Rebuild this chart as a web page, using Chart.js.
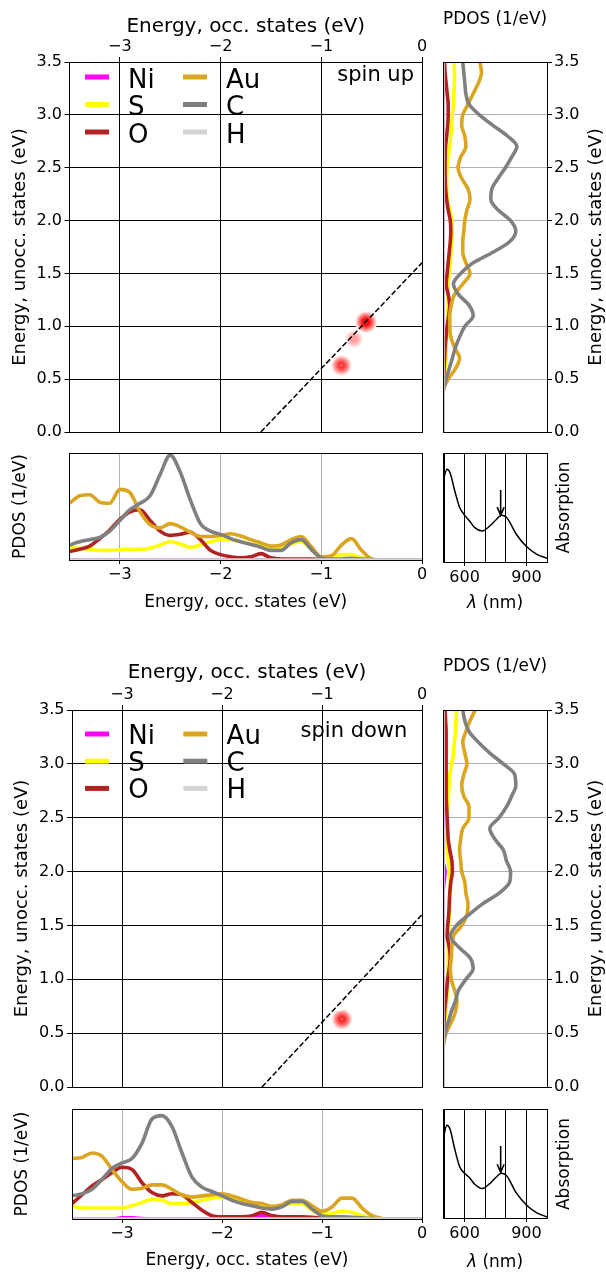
<!DOCTYPE html>
<html>
<head>
<meta charset="utf-8">
<title>PDOS and transitions</title>
<script src="https://cdn.jsdelivr.net/npm/chart.js@4.4.0/dist/chart.umd.min.js"></script>
<style>
  html, body { margin: 0; padding: 0; background: #fff; overflow: hidden; }
  #page { position: relative; width: 606px; height: 1272px; overflow: hidden; }
  #page canvas { position: absolute; }
</style>
</head>
<body>
<div id="page">
  <canvas id="upMain" width="440" height="445" style="left:0px;top:0px"></canvas>
  <canvas id="upRight" width="176" height="445" style="left:430px;top:0px"></canvas>
  <canvas id="upBottom" width="440" height="180" style="left:0px;top:440px"></canvas>
  <canvas id="upAbs" width="176" height="180" style="left:430px;top:440px"></canvas>
  <canvas id="downMain" width="440" height="450" style="left:0px;top:650px"></canvas>
  <canvas id="downRight" width="176" height="450" style="left:430px;top:650px"></canvas>
  <canvas id="downBottom" width="440" height="186" style="left:0px;top:1096px"></canvas>
  <canvas id="downAbs" width="176" height="186" style="left:430px;top:1096px"></canvas>
</div>
<script>
// ---- data ----
const elements = ['Ni', 'S', 'O', 'Au', 'C', 'H'];
const elementColors = ['#ff00ff', '#ffff00', '#b22222', '#daa520', '#808080', '#d3d3d3'];

const occTicks = [-3, -2, -1, 0];
const unoccTicks = [0, 0.5, 1.0, 1.5, 2.0, 2.5, 3.0, 3.5];
const lambdaTicks = [500, 600, 700, 800, 900, 1000];
const lambdaLabels = [600, 900];

// energy grids of the PDOS panels (eV)
const occEnergy = [-3.5, -3.4, -3.3, -3.2, -3.1, -3.0, -2.9, -2.8, -2.7, -2.6, -2.5, -2.4,
  -2.3, -2.2, -2.1, -2.0, -1.9, -1.8, -1.7, -1.6, -1.5, -1.4, -1.3, -1.2, -1.1, -1.0,
  -0.9, -0.8, -0.7, -0.6, -0.5, -0.4, -0.3, -0.2, -0.1, 0.0];
const unoccEnergy = [0.0, 0.1, 0.2, 0.3, 0.4, 0.5, 0.6, 0.7, 0.8, 0.9, 1.0, 1.1, 1.2, 1.3,
  1.4, 1.5, 1.6, 1.7, 1.8, 1.9, 2.0, 2.1, 2.2, 2.3, 2.4, 2.5, 2.6, 2.7, 2.8, 2.9, 3.0,
  3.1, 3.2, 3.3, 3.4, 3.5];

// spin up, occupied states
const upOccNi = [0, 0, 0, 0, 0, 0, 0, 0, 0, 0, 0, 0, 0, 0, 0, 0, 0, 0, 0, 0, 0, 0, 0, 0, 0, 0, 0, 0, 0, 0, 0, 0, 0, 0, 0, 0];
const upOccS = [0.12, 0.11, 0.10, 0.09, 0.09, 0.095, 0.10, 0.10, 0.11, 0.14, 0.17, 0.15, 0.12, 0.14, 0.17, 0.19, 0.19, 0.17, 0.15, 0.13, 0.12, 0.12, 0.15, 0.17, 0.10, 0.02, 0.035, 0.05, 0.05, 0.02, 0.005, 0, 0, 0, 0, 0];
const upOccO = [0.08, 0.10, 0.13, 0.20, 0.28, 0.38, 0.45, 0.47, 0.37, 0.27, 0.23, 0.24, 0.26, 0.19, 0.09, 0.05, 0.03, 0.02, 0.03, 0.06, 0.02, 0.01, 0.01, 0.01, 0.01, 0.005, 0, 0, 0, 0, 0, 0, 0, 0, 0, 0];
const upOccAu = [0.53, 0.60, 0.61, 0.54, 0.53, 0.66, 0.63, 0.45, 0.33, 0.30, 0.34, 0.31, 0.26, 0.22, 0.22, 0.23, 0.245, 0.225, 0.19, 0.16, 0.13, 0.14, 0.19, 0.22, 0.125, 0.03, 0.04, 0.14, 0.20, 0.09, 0.01, 0, 0, 0, 0, 0];
const upOccC = [0.14, 0.17, 0.19, 0.21, 0.27, 0.37, 0.47, 0.53, 0.60, 0.80, 0.98, 0.82, 0.56, 0.34, 0.27, 0.24, 0.20, 0.17, 0.145, 0.12, 0.09, 0.09, 0.16, 0.19, 0.10, 0.02, 0.01, 0.01, 0.015, 0.01, 0.005, 0, 0, 0, 0, 0];
const upOccH = [0, 0, 0, 0, 0, 0, 0, 0, 0, 0, 0, 0, 0, 0, 0, 0, 0, 0, 0, 0, 0, 0, 0, 0, 0, 0, 0, 0, 0, 0, 0, 0, 0, 0, 0, 0];

// spin up, unoccupied states
const upUnoccNi = [0, 0, 0, 0, 0, 0, 0, 0, 0, 0, 0, 0, 0, 0, 0, 0, 0, 0, 0, 0, 0, 0, 0, 0, 0, 0, 0, 0, 0, 0, 0, 0, 0, 0, 0, 0];
const upUnoccS = [0, 0, 0, 0, 0, 0.01, 0.02, 0.03, 0.03, 0.035, 0.04, 0.045, 0.05, 0.05, 0.05, 0.06, 0.07, 0.075, 0.085, 0.09, 0.085, 0.065, 0.04, 0.035, 0.035, 0.04, 0.05, 0.065, 0.075, 0.085, 0.09, 0.10, 0.105, 0.11, 0.11, 0.105];
const upUnoccO = [0, 0, 0, 0, 0, 0.005, 0.01, 0.015, 0.02, 0.03, 0.04, 0.055, 0.065, 0.05, 0.03, 0.04, 0.05, 0.06, 0.07, 0.075, 0.07, 0.05, 0.035, 0.025, 0.02, 0.02, 0.02, 0.025, 0.035, 0.045, 0.05, 0.05, 0.04, 0.03, 0.02, 0.015];
const upUnoccAu = [0, 0, 0, 0, 0.005, 0.05, 0.12, 0.16, 0.11, 0.075, 0.065, 0.065, 0.08, 0.11, 0.19, 0.26, 0.22, 0.19, 0.19, 0.20, 0.21, 0.23, 0.26, 0.24, 0.18, 0.145, 0.17, 0.22, 0.21, 0.18, 0.19, 0.24, 0.29, 0.34, 0.37, 0.355];
const upUnoccC = [0, 0, 0, 0, 0.005, 0.03, 0.06, 0.09, 0.12, 0.16, 0.21, 0.29, 0.25, 0.15, 0.10, 0.17, 0.29, 0.48, 0.64, 0.70, 0.65, 0.53, 0.46, 0.47, 0.53, 0.60, 0.66, 0.71, 0.62, 0.48, 0.35, 0.25, 0.22, 0.21, 0.20, 0.19];
const upUnoccH = [0, 0, 0, 0, 0, 0, 0, 0, 0, 0, 0, 0, 0, 0, 0, 0, 0, 0, 0, 0, 0, 0, 0, 0, 0, 0, 0, 0, 0, 0, 0, 0, 0, 0, 0, 0];

// spin down, occupied states
const downOccNi = [0, 0, 0, 0, 0, 0.01, 0.01, 0.005, 0, 0, 0, 0, 0, 0, 0, 0, 0, 0, 0.01, 0.03, 0.03, 0.01, 0, 0, 0, 0, 0, 0, 0, 0, 0, 0, 0, 0, 0, 0];
const downOccS = [0.115, 0.10, 0.10, 0.10, 0.10, 0.10, 0.12, 0.15, 0.18, 0.17, 0.14, 0.14, 0.15, 0.17, 0.19, 0.20, 0.18, 0.16, 0.14, 0.12, 0.11, 0.12, 0.14, 0.14, 0.08, 0.04, 0.05, 0.07, 0.06, 0.03, 0.005, 0, 0, 0, 0, 0];
const downOccO = [0.14, 0.22, 0.30, 0.36, 0.42, 0.47, 0.45, 0.33, 0.24, 0.21, 0.23, 0.22, 0.15, 0.08, 0.03, 0.02, 0.02, 0.02, 0.03, 0.06, 0.03, 0.02, 0.02, 0.02, 0.015, 0.005, 0, 0, 0, 0, 0, 0, 0, 0, 0, 0];
const downOccAu = [0.55, 0.56, 0.60, 0.57, 0.45, 0.34, 0.27, 0.28, 0.31, 0.31, 0.27, 0.22, 0.20, 0.21, 0.22, 0.23, 0.21, 0.18, 0.15, 0.14, 0.115, 0.13, 0.17, 0.17, 0.12, 0.07, 0.11, 0.19, 0.19, 0.10, 0.03, 0.005, 0, 0, 0, 0];
const downOccC = [0.21, 0.23, 0.27, 0.36, 0.46, 0.51, 0.55, 0.69, 0.91, 0.94, 0.84, 0.60, 0.38, 0.29, 0.25, 0.21, 0.17, 0.14, 0.12, 0.10, 0.09, 0.11, 0.16, 0.16, 0.09, 0.03, 0.02, 0.02, 0.015, 0.01, 0.005, 0, 0, 0, 0, 0];
const downOccH = [0, 0, 0, 0, 0, 0, 0, 0, 0, 0, 0, 0, 0, 0, 0, 0, 0, 0, 0, 0, 0, 0, 0, 0, 0, 0, 0, 0, 0, 0, 0, 0, 0, 0, 0, 0];

// spin down, unoccupied states
const downUnoccNi = [0, 0, 0, 0, 0, 0, 0, 0, 0, 0, 0, 0, 0, 0, 0, 0, 0, 0, 0, 0.01, 0.02, 0, 0, 0, 0, 0, 0, 0, 0, 0, 0, 0, 0, 0, 0, 0];
const downUnoccS = [0, 0, 0, 0, 0, 0.005, 0.015, 0.025, 0.035, 0.04, 0.045, 0.05, 0.05, 0.05, 0.05, 0.055, 0.06, 0.065, 0.07, 0.07, 0.06, 0.05, 0.04, 0.035, 0.035, 0.035, 0.045, 0.05, 0.06, 0.065, 0.085, 0.10, 0.11, 0.12, 0.125, 0.13];
const downUnoccO = [0, 0, 0, 0, 0, 0.005, 0.01, 0.015, 0.025, 0.035, 0.045, 0.06, 0.07, 0.06, 0.04, 0.045, 0.055, 0.06, 0.065, 0.075, 0.09, 0.085, 0.065, 0.05, 0.045, 0.04, 0.035, 0.03, 0.03, 0.03, 0.03, 0.03, 0.03, 0.03, 0.025, 0.02];
const downUnoccAu = [0, 0, 0, 0, 0.005, 0.03, 0.08, 0.12, 0.135, 0.11, 0.08, 0.07, 0.08, 0.085, 0.10, 0.18, 0.23, 0.24, 0.22, 0.21, 0.18, 0.17, 0.16, 0.17, 0.19, 0.25, 0.25, 0.20, 0.18, 0.20, 0.23, 0.21, 0.19, 0.22, 0.26, 0.31];
const downUnoccC = [0, 0, 0, 0, 0.003, 0.02, 0.05, 0.08, 0.12, 0.15, 0.22, 0.29, 0.26, 0.15, 0.07, 0.13, 0.25, 0.38, 0.54, 0.64, 0.65, 0.61, 0.58, 0.50, 0.45, 0.54, 0.61, 0.66, 0.70, 0.69, 0.58, 0.45, 0.34, 0.25, 0.21, 0.19];
const downUnoccH = [0, 0, 0, 0, 0, 0, 0, 0, 0, 0, 0, 0, 0, 0, 0, 0, 0, 0, 0, 0, 0, 0, 0, 0, 0, 0, 0, 0, 0, 0, 0, 0, 0, 0, 0, 0];

// transitions (occ. energy, unocc. energy, relative weight)
const photonEnergy = 1.6;
const upTransOcc = [-0.80, -0.675, -0.556];
const upTransUnocc = [0.63, 0.88, 1.04];
const upTransWeight = [0.8, 0.4, 1.0];
const downTransOcc = [-0.80, -0.84, -0.67];
const downTransUnocc = [0.63, 0.78, 0.91];
const downTransWeight = [0.85, 0.03, 0.03];

// absorption spectra
const absWavelength = [495, 514, 530, 551, 576, 600, 624, 649, 686, 722, 754, 778, 803, 851, 900, 949, 1000];
const upAbsorption = [0.74, 0.85, 0.815, 0.66, 0.50, 0.43, 0.376, 0.315, 0.285, 0.33, 0.39, 0.43, 0.41, 0.255, 0.142, 0.073, 0.033];
const downAbsorption = [0.72, 0.85, 0.81, 0.64, 0.47, 0.41, 0.37, 0.31, 0.27, 0.315, 0.376, 0.41, 0.39, 0.23, 0.12, 0.05, 0.01];
const arrowWavelength = 775;
const upArrow = [0.66, 0.43];
const downArrow = [0.66, 0.42];

// ---- helpers ----
Chart.defaults.font.family = "'DejaVu Sans', sans-serif";
Chart.defaults.color = '#000';
Chart.defaults.animation = false;

const TICK_FONT = { size: 16 };
const PDOS_WIDTH = 3.6;

function fixSize(size) {
  return function (scale) {
    if (scale.isHorizontal()) scale.height = size;
    else scale.width = size;
  };
}

function setTicks(values) {
  return function (scale) {
    scale.ticks = values.map(v => ({ value: v }));
  };
}

function occLabel(v) {
  return v < 0 ? '\u2212' + Math.abs(v) : String(v);
}

function unoccLabel(v) {
  return v.toFixed(1);
}

// soft red blob used as point style for the transitions
function makeGlow(weight) {
  const radius = 8.5 + 3 * weight;
  const size = Math.ceil(radius * 2) + 2;
  const c = document.createElement('canvas');
  c.width = size;
  c.height = size;
  const g = c.getContext('2d');
  const m = size / 2;
  const tint = k => {
    const v = Math.round(255 * (1 - weight * (1 - k)));
    return `rgb(255,${v},${v})`;
  };
  const grad = g.createRadialGradient(m, m, 0, m, m, radius);
  grad.addColorStop(0, '#ffffff');
  grad.addColorStop(0.1, tint(0));
  grad.addColorStop(0.3, tint(0.05));
  grad.addColorStop(0.6, tint(0.45));
  grad.addColorStop(0.85, tint(0.85));
  grad.addColorStop(0.94, 'rgba(255,252,252,1)');
  grad.addColorStop(1, 'rgba(255,255,255,0)');
  g.fillStyle = grad;
  g.beginPath();
  g.arc(m, m, radius, 0, Math.PI * 2);
  g.fill();
  return c;
}

const framePlugin = {
  id: 'frame',
  afterDraw(chart) {
    const { ctx, chartArea: a } = chart;
    const al = v => Math.round(v + 0.5) - 0.5;
    ctx.save();
    ctx.strokeStyle = '#000';
    ctx.lineWidth = 1;
    ctx.strokeRect(al(a.left), al(a.top), al(a.right) - al(a.left), al(a.bottom) - al(a.top));
    ctx.restore();
  }
};

// rotated labels that read bottom to top (right hand side titles)
const sideTextPlugin = {
  id: 'sideText',
  afterDraw(chart, args, opts) {
    const ctx = chart.ctx;
    (opts.items || []).forEach(it => {
      ctx.save();
      ctx.translate(it.x, it.y);
      ctx.rotate(-Math.PI / 2);
      ctx.font = it.size + "px 'DejaVu Sans', sans-serif";
      ctx.fillStyle = '#000';
      ctx.textAlign = 'center';
      ctx.textBaseline = 'middle';
      ctx.fillText(it.text, 0, 0);
      ctx.restore();
    });
  }
};

// "λ (nm)" with an italic lambda, centred under the plot area
const lambdaTitlePlugin = {
  id: 'lambdaTitle',
  afterDraw(chart, args, opts) {
    const { ctx, chartArea } = chart;
    const italic = "italic 17px 'DejaVu Sans', sans-serif";
    const upright = "17px 'DejaVu Sans', sans-serif";
    ctx.save();
    ctx.fillStyle = '#000';
    ctx.textBaseline = 'middle';
    ctx.textAlign = 'left';
    ctx.font = italic;
    const w1 = ctx.measureText('\u03bb').width;
    ctx.font = upright;
    const w2 = ctx.measureText(' (nm)').width;
    const x0 = (chartArea.left + chartArea.right) / 2 - (w1 + w2) / 2;
    const y = chart.height - opts.bottom;
    ctx.font = italic;
    ctx.fillText('\u03bb', x0, y);
    ctx.font = upright;
    ctx.fillText(' (nm)', x0 + w1, y);
    ctx.restore();
  }
};

// element legend in two columns + spin label
const pdosLegendPlugin = {
  id: 'pdosLegend',
  afterDatasetsDraw(chart, args, opts) {
    const { ctx, chartArea } = chart;
    ctx.save();
    elements.forEach((name, i) => {
      const col = Math.floor(i / 3);
      const row = i % 3;
      const x = chartArea.left + opts.left + col * opts.colStep;
      const y = chartArea.top + opts.top + row * opts.rowStep;
      ctx.strokeStyle = elementColors[i];
      ctx.lineWidth = 5;
      ctx.beginPath();
      ctx.moveTo(x, y);
      ctx.lineTo(x + 24, y);
      ctx.stroke();
      ctx.fillStyle = '#000';
      ctx.font = "26px 'DejaVu Sans', sans-serif";
      ctx.textAlign = 'left';
      ctx.textBaseline = 'alphabetic';
      ctx.fillText(name, x + opts.textGap, y + opts.baseline);
    });
    ctx.font = "21px 'DejaVu Sans', sans-serif";
    ctx.textAlign = 'right';
    ctx.fillText(opts.spin, chartArea.right - opts.spinRight, chartArea.top + opts.spinBaseline);
    ctx.restore();
  }
};

const arrowPlugin = {
  id: 'absArrow',
  afterDatasetsDraw(chart, args, opts) {
    const { ctx } = chart;
    const x = chart.scales.x.getPixelForValue(opts.lambda);
    const y0 = chart.scales.y.getPixelForValue(opts.from);
    const y1 = chart.scales.y.getPixelForValue(opts.to);
    ctx.save();
    ctx.strokeStyle = '#000';
    ctx.lineWidth = 1.6;
    ctx.beginPath();
    ctx.moveTo(x, y0);
    ctx.lineTo(x, y1);
    ctx.moveTo(x - 3.5, y1 - 8);
    ctx.lineTo(x, y1);
    ctx.lineTo(x + 3.5, y1 - 8);
    ctx.stroke();
    ctx.restore();
  }
};

const baseOptions = {
  responsive: false,
  devicePixelRatio: 1,
  events: []
};

function buildMain(id, occ, unocc, weight, lay) {
  return new Chart(document.getElementById(id), {
    type: 'scatter',
    data: {
      datasets: [
        {
          data: [{ x: -photonEnergy, y: 0 }, { x: 0, y: photonEnergy }],
          showLine: true,
          borderColor: '#000',
          borderWidth: 1.5,
          borderDash: [5.5, 2.4],
          pointRadius: 0,
          order: 0
        },
        {
          data: occ.map((e, i) => ({ x: e, y: unocc[i] })),
          pointStyle: weight.map(w => makeGlow(w)),
          pointRadius: 5,
          order: 1
        }
      ]
    },
    options: {
      ...baseOptions,
      layout: { padding: lay.padding },
      plugins: {
        legend: { display: false },
        tooltip: { enabled: false },
        pdosLegend: lay.legend
      },
      scales: {
        x: {
          type: 'linear', position: 'top', min: -3.5, max: 0,
          afterBuildTicks: setTicks(occTicks),
          afterFit: fixSize(lay.topH),
          ticks: { font: TICK_FONT, padding: 0.5, maxRotation: 0, autoSkip: false, callback: occLabel },
          grid: { color: '#000', tickLength: 5 },
          border: { display: false },
          title: { display: true, text: 'Energy, occ. states (eV)', font: { size: 20 }, padding: { top: lay.xTitle, bottom: 0 } }
        },
        y: {
          type: 'linear', position: 'left', min: 0, max: 3.5,
          afterBuildTicks: setTicks(unoccTicks),
          afterFit: fixSize(lay.leftW),
          ticks: { font: TICK_FONT, padding: 2.5, autoSkip: false, callback: unoccLabel },
          grid: { color: '#000', tickLength: 5 },
          border: { display: false },
          title: { display: true, text: 'Energy, unocc. states (eV)', font: { size: 18 }, padding: { top: lay.yTitle, bottom: 0 } }
        }
      }
    },
    plugins: [framePlugin, pdosLegendPlugin]
  });
}

function buildUnoccPdos(id, series, lay) {
  return new Chart(document.getElementById(id), {
    type: 'line',
    data: {
      datasets: elements.map((name, i) => ({
        label: name,
        data: unoccEnergy.map((e, k) => ({ x: series[i][k], y: e })),
        borderColor: elementColors[i],
        borderWidth: PDOS_WIDTH,
        pointRadius: 0,
        cubicInterpolationMode: 'monotone',
        order: elements.length - i,
        clip: 0
      }))
    },
    options: {
      ...baseOptions,
      indexAxis: 'y',
      layout: { padding: lay.padding },
      plugins: {
        legend: { display: false },
        tooltip: { enabled: false },
        sideText: { items: [{ text: 'Energy, unocc. states (eV)', x: lay.labelX, y: lay.labelY, size: 18 }] }
      },
      scales: {
        x: {
          type: 'linear', position: 'top', min: 0, max: 1,
          afterFit: fixSize(lay.topH),
          ticks: { display: false },
          grid: { display: false },
          border: { display: false },
          title: { display: true, text: 'PDOS (1/eV)', font: { size: 17 }, padding: { top: lay.xTitle, bottom: 0 } }
        },
        y: {
          type: 'linear', position: 'right', min: 0, max: 3.5,
          afterBuildTicks: setTicks(unoccTicks),
          afterFit: fixSize(59),
          ticks: { font: TICK_FONT, padding: 2, autoSkip: false, callback: unoccLabel },
          grid: { color: '#b0b0b0', tickColor: '#000', tickLength: 5 },
          border: { display: false }
        }
      }
    },
    plugins: [framePlugin, sideTextPlugin]
  });
}

function buildOccPdos(id, series, lay) {
  return new Chart(document.getElementById(id), {
    type: 'line',
    data: {
      datasets: elements.map((name, i) => ({
        label: name,
        data: occEnergy.map((e, k) => ({ x: e, y: series[i][k] })),
        borderColor: elementColors[i],
        borderWidth: PDOS_WIDTH,
        pointRadius: 0,
        cubicInterpolationMode: 'monotone',
        order: elements.length - i,
        clip: 0
      }))
    },
    options: {
      ...baseOptions,
      layout: { padding: lay.padding },
      plugins: { legend: { display: false }, tooltip: { enabled: false } },
      scales: {
        x: {
          type: 'linear', position: 'bottom', min: -3.5, max: 0,
          afterBuildTicks: setTicks(occTicks),
          afterFit: fixSize(lay.bottomH),
          ticks: { font: TICK_FONT, padding: 1.5, maxRotation: 0, autoSkip: false, callback: occLabel },
          grid: { color: '#b0b0b0', tickColor: '#000', tickLength: 4 },
          border: { display: false },
          title: { display: true, text: 'Energy, occ. states (eV)', font: { size: 17 }, padding: { top: 0, bottom: lay.xTitle } }
        },
        y: {
          type: 'linear', position: 'left', min: 0, max: 1,
          afterFit: fixSize(lay.leftW),
          ticks: { display: false },
          grid: { display: false },
          border: { display: false },
          title: { display: true, text: 'PDOS (1/eV)', font: { size: 17 }, padding: { top: lay.yTitle, bottom: 0 } }
        }
      }
    },
    plugins: [framePlugin]
  });
}

function buildAbs(id, values, arrow, lay) {
  return new Chart(document.getElementById(id), {
    type: 'line',
    data: {
      datasets: [{
        data: absWavelength.map((w, i) => ({ x: w, y: values[i] })),
        borderColor: '#000',
        borderWidth: 1.5,
        pointRadius: 0,
        cubicInterpolationMode: 'monotone',
        clip: 0
      }]
    },
    options: {
      ...baseOptions,
      layout: { padding: lay.padding },
      plugins: {
        legend: { display: false },
        tooltip: { enabled: false },
        absArrow: { lambda: arrowWavelength, from: arrow[0], to: arrow[1] },
        lambdaTitle: { bottom: lay.xTitle + 10.2 },
        sideText: { items: [{ text: 'Absorption', x: lay.labelX, y: lay.labelY, size: 17 }] }
      },
      scales: {
        x: {
          type: 'linear', position: 'bottom', min: 495, max: 1000,
          afterBuildTicks: setTicks(lambdaTicks),
          afterFit: fixSize(lay.bottomH),
          ticks: {
            font: TICK_FONT, padding: 2, maxRotation: 0, autoSkip: false,
            callback: v => (lambdaLabels.includes(v) ? String(v) : '')
          },
          grid: {
            color: '#000',
            tickColor: c => (c.tick && lambdaLabels.includes(c.tick.value) ? '#000' : 'rgba(0,0,0,0)'),
            tickLength: 4
          },
          border: { display: false }
        },
        y: { type: 'linear', display: false, min: 0, max: 1 }
      }
    },
    plugins: [framePlugin, arrowPlugin, sideTextPlugin, lambdaTitlePlugin]
  });
}

// ---- spin up ----
buildMain('upMain', upTransOcc, upTransUnocc, upTransWeight, {
  padding: { left: 0, top: 0, right: 18, bottom: 13 },
  topH: 62, leftW: 69.5, xTitle: 15, yTitle: 9.2,
  legend: { left: 15.5, top: 15, rowStep: 27.5, colStep: 98, textGap: 43, baseline: 10.5,
            spin: 'spin up', spinRight: 8, spinBaseline: 19 }
});
buildUnoccPdos('upRight', [upUnoccNi, upUnoccS, upUnoccO, upUnoccAu, upUnoccC, upUnoccH], {
  padding: { left: 13, top: 0, right: 0, bottom: 13 },
  topH: 62, xTitle: 9.8, labelX: 166, labelY: 247
});
buildOccPdos('upBottom', [upOccNi, upOccS, upOccO, upOccAu, upOccC, upOccH], {
  padding: { left: 0, top: 13, right: 18, bottom: 0 },
  bottomH: 60, xTitle: 7.3, leftW: 69.5, yTitle: 10
});
buildAbs('upAbs', upAbsorption, upArrow, {
  padding: { left: 13, top: 13, right: 59, bottom: 0 },
  bottomH: 58, xTitle: 6.3, labelX: 135, labelY: 67.5
});

// ---- spin down ----
buildMain('downMain', downTransOcc, downTransUnocc, downTransWeight, {
  padding: { left: 0, top: 0, right: 18, bottom: 13 },
  topH: 60, leftW: 72, xTitle: 11, yTitle: 11.7,
  legend: { left: 13, top: 24, rowStep: 27.2, colStep: 98.3, textGap: 43.3, baseline: 10,
            spin: 'spin down', spinRight: 14.7, spinBaseline: 27.3 }
});
buildUnoccPdos('downRight', [downUnoccNi, downUnoccS, downUnoccO, downUnoccAu, downUnoccC, downUnoccH], {
  padding: { left: 13, top: 0, right: 0, bottom: 13 },
  topH: 60, xTitle: 6.8, labelX: 166, labelY: 248.5
});
buildOccPdos('downBottom', [downOccNi, downOccS, downOccO, downOccAu, downOccC, downOccH], {
  padding: { left: 0, top: 13, right: 18, bottom: 0 },
  bottomH: 63, xTitle: 10.8, leftW: 72, yTitle: 12.5
});
buildAbs('downAbs', downAbsorption, downArrow, {
  padding: { left: 13, top: 13, right: 59, bottom: 0 },
  bottomH: 64, xTitle: 8.8, labelX: 135, labelY: 68
});
</script>
</body>
</html>
